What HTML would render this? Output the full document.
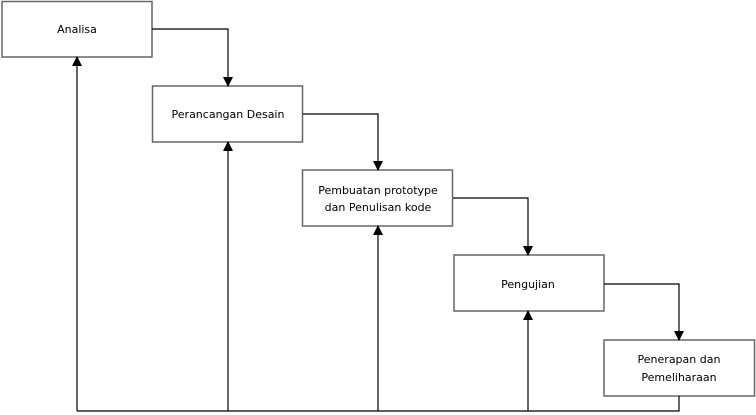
<!DOCTYPE html>
<html><head><style>body{margin:0;background:#fff}svg{display:block}</style></head><body>
<svg width="756" height="415" viewBox="0 0 756 415" xmlns="http://www.w3.org/2000/svg" font-family="'DejaVu Sans','Liberation Sans',sans-serif" font-size="11" fill="#000">
<defs><marker id="a" markerWidth="10" markerHeight="10" refX="9" refY="5" orient="auto" markerUnits="userSpaceOnUse"><path d="M0,0 L10,5 L0,10 z" fill="#000"/></marker></defs>
<g fill="#fff" stroke="#666" stroke-width="1.5">
<rect x="2" y="1.5" width="150" height="55.5"/>
<rect x="152.5" y="86" width="150" height="56"/>
<rect x="302.5" y="170" width="150" height="56"/>
<rect x="454" y="255" width="150" height="56"/>
<rect x="604" y="340" width="150.5" height="56"/>
</g>
<g stroke="#000" stroke-width="1.2" fill="none">
<polyline points="152,29 228,29 228,86" marker-end="url(#a)"/>
<polyline points="303,114 378,114 378,170" marker-end="url(#a)"/>
<polyline points="453,198 528,198 528,255" marker-end="url(#a)"/>
<polyline points="604,284 679,284 679,340" marker-end="url(#a)"/>
<polyline points="679,396 679,411 77,411"/>
<line x1="77" y1="411" x2="77" y2="57" marker-end="url(#a)"/>
<line x1="228" y1="411" x2="228" y2="142" marker-end="url(#a)"/>
<line x1="378" y1="411" x2="378" y2="226" marker-end="url(#a)"/>
<line x1="528" y1="411" x2="528" y2="311" marker-end="url(#a)"/>
</g>
<g text-anchor="middle">
<text x="77" y="33">Analisa</text>
<text x="228" y="118">Perancangan Desain</text>
<text x="378" y="194">Pembuatan prototype</text>
<text x="378" y="211">dan Penulisan kode</text>
<text x="528" y="288">Pengujian</text>
<text x="679" y="363">Penerapan dan</text>
<text x="679" y="381">Pemeliharaan</text>
</g>
</svg>
</body></html>
